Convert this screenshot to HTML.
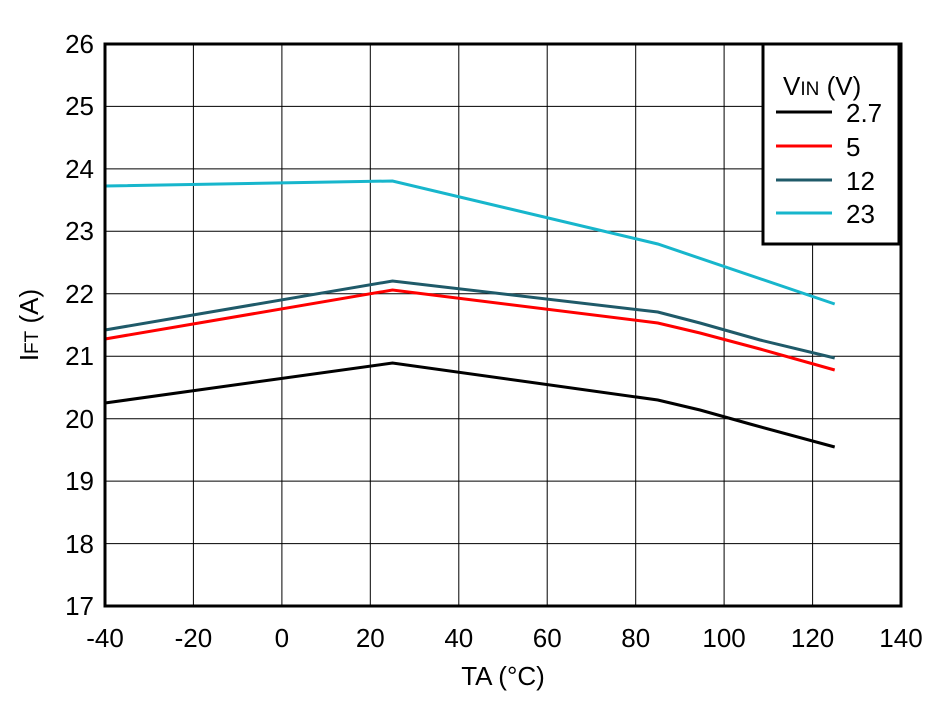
<!DOCTYPE html>
<html><head><meta charset="utf-8"><style>body{margin:0;background:#fff}</style></head><body>
<svg width="948" height="701" xmlns="http://www.w3.org/2000/svg" font-family="Liberation Sans, Arial, sans-serif" font-size="26">
<rect width="948" height="701" fill="#fff"/>
<g stroke="#000" stroke-width="1">
<line x1="193.4" y1="44" x2="193.4" y2="606"/><line x1="281.9" y1="44" x2="281.9" y2="606"/><line x1="370.3" y1="44" x2="370.3" y2="606"/><line x1="458.8" y1="44" x2="458.8" y2="606"/><line x1="547.2" y1="44" x2="547.2" y2="606"/><line x1="635.7" y1="44" x2="635.7" y2="606"/><line x1="724.1" y1="44" x2="724.1" y2="606"/><line x1="812.6" y1="44" x2="812.6" y2="606"/>
<line x1="105" y1="106.4" x2="901" y2="106.4"/><line x1="105" y1="168.9" x2="901" y2="168.9"/><line x1="105" y1="231.3" x2="901" y2="231.3"/><line x1="105" y1="293.8" x2="901" y2="293.8"/><line x1="105" y1="356.2" x2="901" y2="356.2"/><line x1="105" y1="418.7" x2="901" y2="418.7"/><line x1="105" y1="481.1" x2="901" y2="481.1"/><line x1="105" y1="543.6" x2="901" y2="543.6"/>
</g>
<g fill="none" stroke-width="3">
<polyline stroke="#000" points="105,403 392.5,363 657.8,400 700,410 750,424 834.7,447"/>
<polyline stroke="#f00" points="105,339 392.5,290 657.8,323 700,333 760,349 834.7,370"/>
<polyline stroke="#1f5a69" points="105,330 392.5,281 657.8,312 700,323 760,340 834.7,358"/>
<polyline stroke="#17b6cc" points="105,186 392.5,181 657.8,244 834.7,304"/>
</g>
<rect x="105" y="44" width="796" height="562" fill="none" stroke="#000" stroke-width="3"/>
<rect x="763" y="44" width="136" height="200" fill="#fff" stroke="#000" stroke-width="3"/>
<text x="783" y="95">V<tspan font-size="19">IN</tspan> (V)</text>
<g stroke-width="3"><line x1="776" y1="112" x2="832" y2="112" stroke="#000"/><line x1="776" y1="146" x2="832" y2="146" stroke="#f00"/><line x1="776" y1="180" x2="832" y2="180" stroke="#1f5a69"/><line x1="776" y1="213" x2="832" y2="213" stroke="#17b6cc"/></g>
<text x="846" y="122">2.7</text><text x="846" y="156">5</text><text x="846" y="190">12</text><text x="846" y="223">23</text>
<g text-anchor="end">
<text x="94" y="53">26</text><text x="94" y="115">25</text><text x="94" y="178">24</text><text x="94" y="240">23</text><text x="94" y="303">22</text><text x="94" y="365">21</text><text x="94" y="428">20</text><text x="94" y="490">19</text><text x="94" y="553">18</text><text x="94" y="615">17</text>
</g>
<g text-anchor="middle">
<text x="105" y="647">-40</text><text x="193.4" y="647">-20</text><text x="281.9" y="647">0</text><text x="370.3" y="647">20</text><text x="458.8" y="647">40</text><text x="547.2" y="647">60</text><text x="635.7" y="647">80</text><text x="724.1" y="647">100</text><text x="812.6" y="647">120</text><text x="901" y="647">140</text>
<text x="503" y="685">TA (°C)</text>
</g>
<text transform="translate(38,325) rotate(-90)" text-anchor="middle">I<tspan font-size="19">FT</tspan> (A)</text>
</svg>
</body></html>
